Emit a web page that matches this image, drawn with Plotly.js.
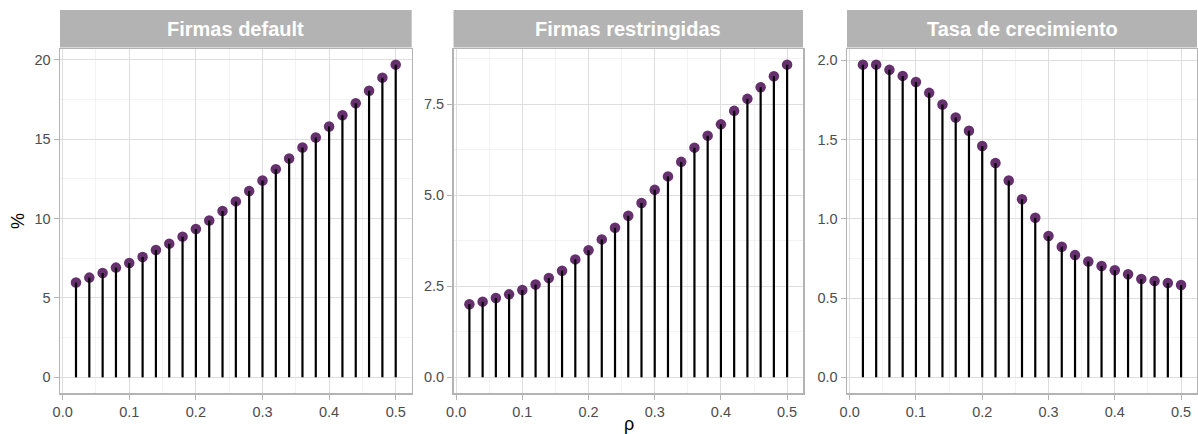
<!DOCTYPE html>
<html>
<head>
<meta charset="utf-8">
<script src="https://cdn.plot.ly/plotly-3.0.1.min.js"></script>
<style>
  html, body { margin: 0; padding: 0; background: #ffffff; }
  #chart { width: 1198px; height: 434px; }
</style>
</head>
<body>
<div id="chart"></div>
<script>
// rho values shared by all three panels
const rho = [0.02, 0.04, 0.06, 0.08, 0.10, 0.12, 0.14, 0.16, 0.18, 0.20,
             0.22, 0.24, 0.26, 0.28, 0.30, 0.32, 0.34, 0.36, 0.38, 0.40,
             0.42, 0.44, 0.46, 0.48, 0.50];

// Share of firms in default (%)
const firmasDefault = [5.97, 6.28, 6.57, 6.91, 7.20, 7.58, 8.02, 8.42, 8.86, 9.34,
                       9.88, 10.47, 11.08, 11.73, 12.40, 13.11, 13.78, 14.47, 15.10, 15.79,
                       16.50, 17.26, 18.05, 18.87, 19.69];

// Share of constrained firms (%)
const firmasRestringidas = [2.01, 2.08, 2.18, 2.28, 2.40, 2.55, 2.73, 2.93, 3.24, 3.49,
                            3.79, 4.11, 4.44, 4.79, 5.15, 5.52, 5.92, 6.31, 6.64, 6.95,
                            7.32, 7.65, 7.97, 8.27, 8.59];

// Growth rate (%)
const tasaCrecimiento = [1.972, 1.972, 1.939, 1.901, 1.862, 1.794, 1.721, 1.639, 1.555, 1.459,
                         1.352, 1.241, 1.123, 1.006, 0.891, 0.824, 0.771, 0.731, 0.702, 0.675,
                         0.650, 0.620, 0.608, 0.595, 0.582];

const panelTitles = ["Firmas default", "Firmas restringidas", "Tasa de crecimiento"];
const xTickVals = [0.0, 0.1, 0.2, 0.3, 0.4, 0.5];

const panels = [
  { values: firmasDefault,      dtick: 5,   fmt: "d"  },
  { values: firmasRestringidas, dtick: 2.5, fmt: ".1f" },
  { values: tasaCrecimiento,    dtick: 0.5, fmt: ".1f" }
];

const W = 1198, H = 434;
const margin = { l: 60, r: 1, t: 49, b: 41 };
const plotW = W - margin.l - margin.r;
const plotH = H - margin.t - margin.b;
const px = v => (v - margin.l) / plotW;   // pixel x -> paper x
const domains = [[px(60), px(411.7)], [px(453.5), px(803)], [px(847), 1.0]];

const pointColor = "#66306f";
const gridColor = "#dedede";
const frameColor = "#b3b3b3";
const tickFont = { family: "Liberation Sans, Arial, sans-serif", size: 14.5, color: "#4d4d4d" };

const data = [];
const layout = {
  width: W, height: H,
  margin: margin,
  paper_bgcolor: "#ffffff",
  plot_bgcolor: "#ffffff",
  showlegend: false,
  shapes: [],
  annotations: []
};

panels.forEach((p, i) => {
  const n = i === 0 ? "" : String(i + 1);
  const xa = "x" + n, ya = "y" + n;
  const ymax = Math.max(0, ...p.values);
  const ymin = Math.min(0, ...p.values);
  const pad = 0.05 * (ymax - ymin);
  const xpad = 0.05 * (rho[rho.length - 1] - rho[0]);

  // points first, stems on top of them
  data.push({
    type: "scatter", mode: "markers", x: rho, y: p.values,
    xaxis: xa, yaxis: ya, hoverinfo: "skip",
    marker: { color: pointColor, size: 10.5, line: { width: 0 } }
  });
  const sx = [], sy = [];
  rho.forEach((r, k) => { sx.push(r, r, null); sy.push(0, p.values[k], null); });
  data.push({
    type: "scatter", mode: "lines", x: sx, y: sy,
    xaxis: xa, yaxis: ya, hoverinfo: "skip",
    line: { color: "#000000", width: 2.2 }
  });

  layout["xaxis" + n] = {
    domain: domains[i], anchor: ya,
    range: [rho[0] - xpad, rho[rho.length - 1] + xpad],
    tickvals: xTickVals, tickformat: ".1f",
    showgrid: true, gridcolor: gridColor, gridwidth: 1,
    minor: { dtick: 0.05, tick0: 0, showgrid: true, gridcolor: "#ebebeb", gridwidth: 0.6, ticks: "" },
    zeroline: false,
    showline: true, mirror: true, linecolor: frameColor, linewidth: 1.5,
    ticks: "outside", ticklen: 5, tickwidth: 1, tickcolor: frameColor,
    tickfont: tickFont, fixedrange: true
  };
  layout["yaxis" + n] = {
    domain: [0, 1], anchor: xa,
    range: [ymin - pad, ymax + pad],
    dtick: p.dtick, tick0: 0, tickformat: p.fmt,
    showgrid: true, gridcolor: gridColor, gridwidth: 1,
    minor: { dtick: p.dtick / 2, tick0: 0, showgrid: true, gridcolor: "#ebebeb", gridwidth: 0.6, ticks: "" },
    zeroline: false,
    showline: true, mirror: true, linecolor: frameColor, linewidth: 1.5,
    ticks: "outside", ticklen: 5, tickwidth: 1, tickcolor: frameColor,
    tickfont: tickFont, fixedrange: true
  };

  // facet strip
  const stripTop = 1 + 39 / plotH;
  layout.shapes.push({
    type: "rect", xref: xa + " domain", yref: ya + " domain",
    x0: 0, x1: 1, y0: 1.004, y1: stripTop,
    fillcolor: frameColor, line: { width: 0 }, layer: "above"
  });
  layout.annotations.push({
    text: "<b>" + panelTitles[i] + "</b>",
    xref: xa + " domain", yref: ya + " domain",
    x: 0.5, y: 1 + 20 / plotH, xanchor: "center", yanchor: "middle",
    showarrow: false,
    font: { family: "Liberation Sans, Arial, sans-serif", size: 20, color: "#ffffff" }
  });
});

// axis titles
layout.annotations.push({
  text: "%", xref: "paper", yref: "paper",
  x: px(18), y: 0.5, xanchor: "center", yanchor: "middle",
  textangle: -90, showarrow: false,
  font: { family: "Liberation Sans, Arial, sans-serif", size: 18, color: "#000000" }
});
layout.annotations.push({
  text: "ρ", xref: "paper", yref: "paper",
  x: px(628.5), y: -(424 - (H - margin.b)) / plotH, xanchor: "center", yanchor: "middle",
  showarrow: false,
  font: { family: "Liberation Sans, Arial, sans-serif", size: 18, color: "#000000" }
});

Plotly.newPlot("chart", data, layout, { displayModeBar: false, staticPlot: true });
</script>
</body>
</html>
